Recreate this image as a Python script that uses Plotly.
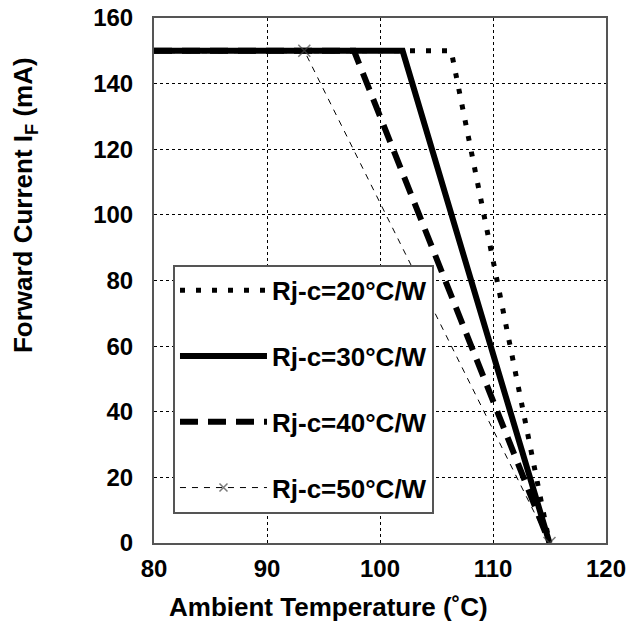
import plotly.graph_objects as go

# Data
series_names = ["Rj-c=20°C/W", "Rj-c=30°C/W", "Rj-c=40°C/W", "Rj-c=50°C/W"]
temp_20 = [80, 106.3, 115]
curr_20 = [150, 150, 0]
temp_30 = [80, 102, 115]
curr_30 = [150, 150, 0]
temp_40 = [80, 97.7, 115]
curr_40 = [150, 150, 0]
temp_50 = [80, 93.3, 115]
curr_50 = [150, 150, 0]
x_ticks = [80, 90, 100, 110, 120]
y_ticks = [0, 20, 40, 60, 80, 100, 120, 140, 160]
x_title = "Ambient Temperature (˚C)"
y_title = "Forward Current I<sub>F</sub> (mA)"

fig = go.Figure()
fig.add_trace(go.Scatter(x=temp_20, y=curr_20, mode="lines", name=series_names[0],
                         legendgroup="a",
                         line=dict(color="black", width=5, dash="5px,11px")))
fig.add_trace(go.Scatter(x=temp_30, y=curr_30, mode="lines", name=series_names[1],
                         legendgroup="b",
                         line=dict(color="black", width=6)))
fig.add_trace(go.Scatter(x=temp_40, y=curr_40, mode="lines", name=series_names[2],
                         legendgroup="c",
                         line=dict(color="black", width=6, dash="18px,10px")))
fig.add_trace(go.Scatter(x=temp_50, y=curr_50, mode="lines+markers", name=series_names[3],
                         legendgroup="d",
                         line=dict(color="black", width=1, dash="6px,6px"),
                         marker=dict(symbol="x-thin", size=[0, 12, 12], color="#444",
                                     line=dict(width=1.5, color="#444"))))

font_family = "Liberation Sans, Arial, sans-serif"
fig.update_layout(
    width=630, height=624,
    margin=dict(l=146, r=32, t=10, b=89, autoexpand=False),
    plot_bgcolor="white", paper_bgcolor="white",
    font=dict(family=font_family, color="black"),
    showlegend=True,
    legend=dict(x=0.042, y=0.53, xanchor="left", yanchor="top",
                bgcolor="white", bordercolor="#555", borderwidth=2,
                font=dict(size=26, family=font_family, color="black", weight="bold"),
                tracegroupgap=29, itemwidth=87),
    xaxis=dict(range=[80, 120], tickvals=x_ticks, showgrid=True, automargin=False,
               gridcolor="black", griddash="dot", gridwidth=1,
               showline=True, linecolor="#555", linewidth=2, mirror=True,
               ticks="", zeroline=False, ticklabelstandoff=3,
               ticklabeloverflow="allow",
               tickfont=dict(size=24, weight="bold")),
    yaxis=dict(range=[0, 160], tickvals=y_ticks, showgrid=True, automargin=False,
               gridcolor="black", griddash="dot", gridwidth=1,
               showline=True, linecolor="#555", linewidth=2, mirror=True,
               ticks="", zeroline=False, ticklabelstandoff=14,
               ticklabeloverflow="allow",
               tickfont=dict(size=24, weight="bold")),
    annotations=[
        dict(text=x_title, xref="paper", yref="paper", x=0.385, y=-0.122,
             xanchor="center", yanchor="middle", showarrow=False,
             font=dict(size=26, weight="bold", color="black")),
        dict(text=y_title, xref="paper", yref="paper", x=-0.285, y=0.644,
             xanchor="center", yanchor="middle", showarrow=False, textangle=-90,
             font=dict(size=26, weight="bold", color="black")),
    ],
)

fig.write_html("out.html")
